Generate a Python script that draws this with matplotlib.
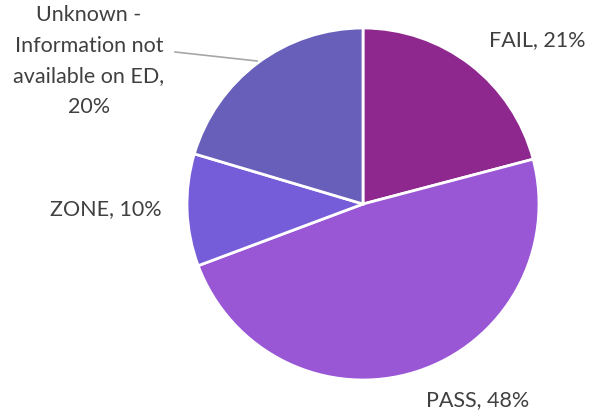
import matplotlib
matplotlib.use("Agg")
import matplotlib.pyplot as plt

categories = ["FAIL", "PASS", "ZONE", "Unknown -\nInformation not\navailable on ED"]
values = [20.9, 48.4, 10.3, 20.4]
pct_labels = ["21%", "48%", "10%", "20%"]
colors = ["#8E278E", "#9957D6", "#755CD9", "#675FB9"]

W, H = 589, 411
CX, CY, R = 363, 204, 176

def px(x, y):
    return ((x - CX) / R, (CY - y) / R)

fig = plt.figure(figsize=(W / 100, H / 100), dpi=100)
ax = fig.add_axes([0, 0, 1, 1])
ax.pie(values, colors=colors, startangle=90, counterclock=False,
       wedgeprops=dict(edgecolor="white", linewidth=2))
ax.set_xlim(-CX / R, (W - CX) / R)
ax.set_ylim(-(H - CY) / R, CY / R)
ax.set_aspect("equal", adjustable="box")
ax.axis("off")

label_px = [(537, 40), (478, 400), (106, 209), (89, 61)]
seps = [", ", ", ", ", ", ",\n"]
font = dict(family=["Lato", "DejaVu Sans"], size=15.5, color="#404040")
for cat, pct, sep, (lx, ly) in zip(categories, pct_labels, seps, label_px):
    ax.text(*px(lx, ly), f"{cat}{sep}{pct}", ha="center", va="center",
            linespacing=1.66, **font)

# leader line for the Unknown label
p0 = px(175, 52)
p1 = px(257, 61)
ax.plot([p0[0], p1[0]], [p0[1], p1[1]], color="#A6A6A6", linewidth=1.2)

fig.savefig("out.png", dpi=100)
